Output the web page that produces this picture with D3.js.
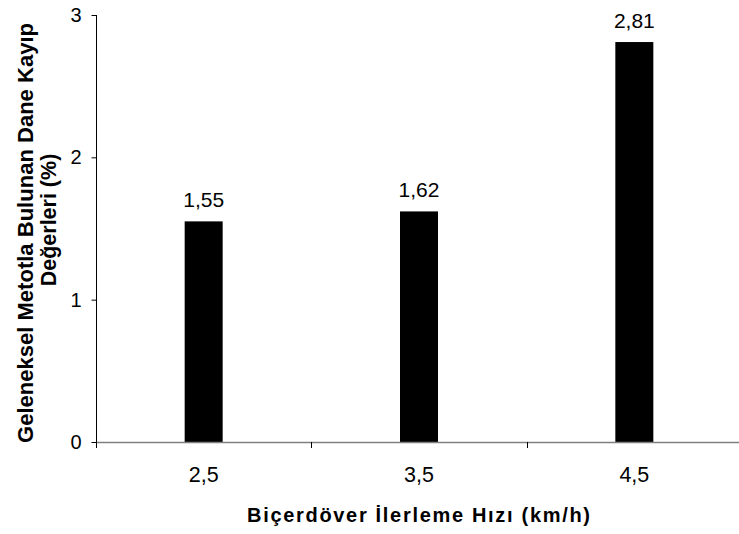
<!DOCTYPE html>
<html><head><meta charset="utf-8">
<script src="https://cdn.jsdelivr.net/npm/d3@7"></script>
<style>body{margin:0;background:#fff}svg{display:block}text{font-family:"Liberation Sans",Arial,sans-serif}</style>
</head><body>
<script>
const categories = ["2,5","3,5","4,5"];
const values = [1.55, 1.62, 2.81];
const valueLabels = ["1,55","1,62","2,81"];
const yTicks = [0,1,2,3];

const W=739,H=534;
const svg=d3.select("body").append("svg").attr("width",W).attr("height",H);
const x=d3.scaleBand().domain(categories).range([96,742]).paddingInner(0).paddingOuter(0);
const y=d3.scaleLinear().domain([0,3]).range([442,15]);
const barW=38;

// bars
svg.selectAll("rect.bar").data(values).enter().append("rect")
  .attr("x",(d,i)=>x(categories[i])+x.bandwidth()/2-barW/2)
  .attr("y",d=>y(d)).attr("width",barW).attr("height",d=>y(0)-y(d)).attr("fill","#000");

// value labels
svg.selectAll("text.vl").data(values).enter().append("text")
  .attr("x",(d,i)=>x(categories[i])+x.bandwidth()/2)
  .attr("y",d=>y(d)-14.5).attr("text-anchor","middle").attr("font-size",21).attr("fill","#000")
  .text((d,i)=>valueLabels[i]);

// x axis line
svg.append("line").attr("x1",96).attr("x2",W).attr("y1",y(0)+0.5).attr("y2",y(0)+0.5).attr("stroke","#808080").attr("stroke-width",1.5);
// x ticks at boundaries
const bounds=categories.map(c=>x(c)).concat([x(categories[2])+x.bandwidth()]);
svg.selectAll("line.xt").data(bounds).enter().append("line")
  .attr("x1",d=>Math.round(d)+0.5).attr("x2",d=>Math.round(d)+0.5).attr("y1",y(0)).attr("y2",y(0)+6).attr("stroke","#000");
// x tick labels
svg.selectAll("text.xl").data(categories).enter().append("text")
  .attr("x",d=>x(d)+x.bandwidth()/2).attr("y",481.5).attr("text-anchor","middle").attr("font-size",21.5).text(d=>d);

// y axis
const yAxis=d3.axisLeft(y).tickValues(yTicks).tickSize(5).tickPadding(10).tickFormat(d3.format("d"));
const ga=svg.append("g").attr("transform","translate(96.5,0)").call(yAxis);
ga.select(".domain").attr("d","M0,"+y(3)+"V"+(y(0)+6)).attr("stroke","#000");
ga.selectAll("text").attr("font-size",20).attr("font-family","Liberation Sans, Arial, sans-serif").attr("fill","#000");
ga.selectAll(".tick line").attr("stroke","#000");

// y title
svg.append("text").attr("transform","translate(33,233) rotate(-90)").attr("text-anchor","middle")
  .attr("font-size",21.5).attr("font-weight","bold").attr("textLength",420).attr("lengthAdjust","spacingAndGlyphs")
  .text("Geleneksel Metotla Bulunan Dane Kayıp");
svg.append("text").attr("transform","translate(56,220) rotate(-90)").attr("text-anchor","middle")
  .attr("font-size",21.5).attr("font-weight","bold")
  .text("Değerleri (%)");

// x title
svg.append("text").attr("x",247).attr("y",521.5).attr("font-size",20)
  .attr("font-weight","bold").attr("textLength",343).attr("lengthAdjust","spacing").text("Biçerdöver İlerleme Hızı (km/h)");
</script>
</body></html>
